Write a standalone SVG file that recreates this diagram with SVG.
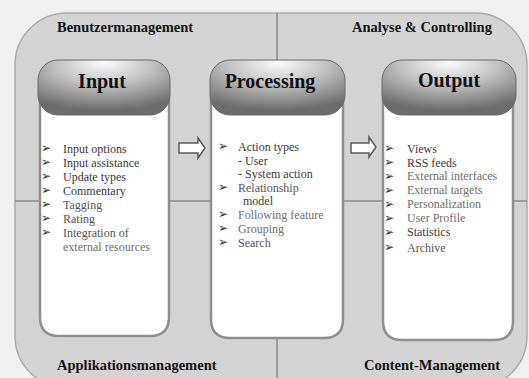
<svg xmlns="http://www.w3.org/2000/svg" width="529" height="378" viewBox="0 0 529 378">
<defs>
<radialGradient id="hdr" cx="0.5" cy="0.12" r="0.8" fx="0.5" fy="0.05">
<stop offset="0" stop-color="#fbfbfb"/>
<stop offset="0.45" stop-color="#c2c2c2"/>
<stop offset="1" stop-color="#6c6c6c"/>
</radialGradient>
<style>
.area{font-family:"Liberation Serif","Times New Roman",serif;font-weight:bold;font-size:14.5px;fill:#151515}
.head{font-family:"Liberation Serif","Times New Roman",serif;font-weight:bold;font-size:20px;fill:#111;text-anchor:middle}
.item{font-family:"Liberation Serif","Times New Roman",serif;font-size:12px;fill:#3a3a3a}
.lt{fill:#6e6e6e}
.md{fill:#555}
.bul{font-family:"DejaVu Sans",sans-serif;font-size:12px;fill:#333}
.body{fill:#fff;stroke:#8e8e8e;stroke-width:2.5}
.hbox{fill:url(#hdr);stroke:#6a6a6a;stroke-width:1}
.div{stroke:#8a8a8a;stroke-width:1.5;fill:none}
.arr{fill:#fff;stroke:#5a5a5a;stroke-width:1.5;stroke-linejoin:miter}
</style>
</defs>
<rect width="529" height="378" fill="#eff0ef"/>
<g id="frame">
<rect x="15" y="13" width="512" height="375" rx="52" ry="52" fill="#d3d3d3" stroke="#ababab" stroke-width="1.5"/>
<line class="div" x1="277" y1="13" x2="277" y2="60"/>
<line class="div" x1="277" y1="339" x2="277" y2="388"/>
<line class="div" x1="15" y1="201" x2="40" y2="201"/>
<line class="div" x1="169" y1="201" x2="211" y2="201"/>
<line class="div" x1="343" y1="201" x2="383" y2="201"/>
<line class="div" x1="513" y1="201" x2="527" y2="201"/>
<text class="area" x="57" y="32">Benutzermanagement</text>
<text class="area" x="352" y="32">Analyse &amp; Controlling</text>
<text class="area" x="57" y="370">Applikationsmanagement</text>
<text class="area" x="364" y="370">Content-Management</text>
</g>
<g id="input">
<path class="body" d="M40 100 H169 V317 Q169 336 150 336 H59 Q40 336 40 317 Z"/>
<rect class="hbox" x="38" y="60" width="132" height="55" rx="20" ry="20"/>
<text class="head" x="102" y="88">Input</text>
<g class="bul">
<text x="41" y="152">➢</text><text x="41" y="166">➢</text><text x="41" y="180">➢</text><text x="41" y="194">➢</text>
<text x="41" y="208">➢</text><text x="41" y="222">➢</text><text x="41" y="236">➢</text>
</g>
<text class="item" x="63" y="153">Input options</text>
<text class="item" x="63" y="167">Input assistance</text>
<text class="item" x="63" y="181">Update types</text>
<text class="item" x="63" y="195">Commentary</text>
<text class="item md" x="63" y="209">Tagging</text>
<text class="item md" x="63" y="223">Rating</text>
<text class="item md" x="63" y="237">Integration of</text>
<text class="item lt" x="63" y="251">external resources</text>
</g>
<g id="processing">
<path class="body" d="M211 100 H343 V319 Q343 338 324 338 H230 Q211 338 211 319 Z"/>
<rect class="hbox" x="210" y="60" width="135" height="55" rx="20" ry="20"/>
<text class="head" x="270" y="88">Processing</text>
<g class="bul">
<text x="218" y="150">➢</text><text x="218" y="190.5">➢</text><text x="218" y="218">➢</text><text x="218" y="232">➢</text><text x="218" y="246">➢</text>
</g>
<text class="item" x="238" y="151">Action types</text>
<text class="item" x="238" y="164.5">- User</text>
<text class="item" x="238" y="178">- System action</text>
<text class="item md" x="238" y="191.5">Relationship</text>
<text class="item" x="243" y="205">model</text>
<text class="item lt" x="238" y="219">Following feature</text>
<text class="item lt" x="238" y="233">Grouping</text>
<text class="item md" x="238" y="247">Search</text>
</g>
<g id="output">
<path class="body" d="M383 100 H513 V321 Q513 340 494 340 H402 Q383 340 383 321 Z"/>
<rect class="hbox" x="382" y="60" width="134" height="55" rx="20" ry="20"/>
<text class="head" x="449" y="87">Output</text>
<g class="bul">
<text x="384" y="152">➢</text><text x="384" y="166">➢</text><text x="384" y="180">➢</text><text x="384" y="194">➢</text>
<text x="384" y="208">➢</text><text x="384" y="222">➢</text><text x="384" y="236">➢</text><text x="384" y="251">➢</text>
</g>
<text class="item" x="407" y="153">Views</text>
<text class="item" x="407" y="166.5">RSS feeds</text>
<text class="item lt" x="407" y="180">External interfaces</text>
<text class="item lt" x="407" y="194">External targets</text>
<text class="item lt" x="407" y="208">Personalization</text>
<text class="item lt" x="407" y="222">User Profile</text>
<text class="item" x="407" y="236">Statistics</text>
<text class="item md" x="407" y="252">Archive</text>
</g>
<g id="connectors">
<path class="arr" d="M179 143 H198 V138 L205 148 L198 158 V153 H179 Z"/>
<path class="arr" d="M351 143 H369 V137 L376 147 L369 157 V153 H351 Z"/>
</g>
</svg>
